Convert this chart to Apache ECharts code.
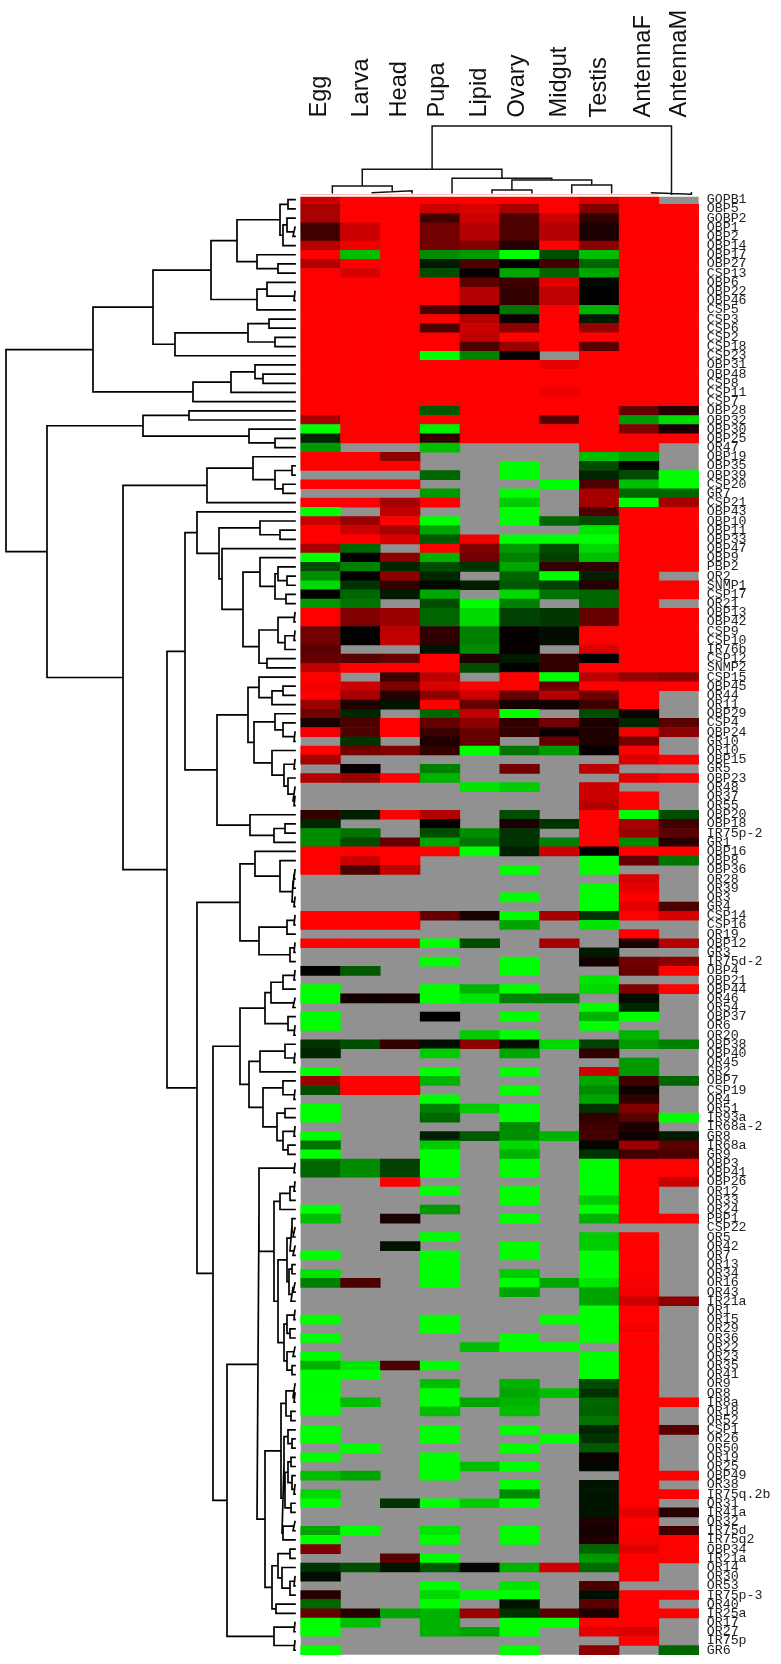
<!DOCTYPE html>
<html>
<head>
<meta charset="utf-8">
<style>html,body{margin:0;padding:0;background:#fff}#c{width:781px;height:1664px}</style>
<script src="https://cdn.jsdelivr.net/npm/echarts@6/dist/echarts.min.js"></script>
</head>
<body>
<div id="c"></div>
<script>
const X = null, R = 1, G = -1;

const tissues = ['Egg','Larva','Head','Pupa','Lipid','Ovary','Midgut','Testis','AntennaF','AntennaM'];

const rowLabels = ['GOPB1','OBP5','GOBP2','OBP1','OBP2','OBP14','OBP17','OBP27','CSP13','OBP6',
'OBP22','OBP46','CSP5','CSP3','CSP6','CSP2','CSP18','CSP23','OBP31','OBP48',
'CSP8','CSP11','CSP7','OBP28','OBP32','OBP30','OBP25','OR47','OBP19','OBP35',
'OBP39','CSP20','GR7','CSP21','OBP43','OBP10','OBP11','OBP33','OBP47','OBP9',
'PBP2','OR2','SNMP1','CSP17','OR21','OBP13','OBP42','CSP9','CSP10','IR76b',
'CSP12','SNMP2','CSP15','OBP45','OR44','OR11','OBP29','CSP4','OBP24','GR10',
'OR10','OBP15','GR5','OBP23','OR48','OR37','OR55','OBP20','OBP18','IR75p-2',
'GR1','OBP16','OBP8','OBP36','OR28','OR39','OR3','GR4','CSP14','CSP16',
'OR19','OBP12','GR3','IR75d-2','OBP4','OBP21','OBP44','OR46','OR54','OBP37',
'OR6','OR20','OBP38','OBP40','OR45','GR2','OBP7','CSP19','OR4','OR51',
'IR93a','IR68a-2','GR8','IR68a','GR9','OBP3','OBP41','OBP26','OR12','OR33',
'OR24','PBP1','CSP22','OR5','OR42','OR7','OR13','OR34','OR16','OR43',
'IR21a','OR1','OR15','OR29','OR36','OR22','OR23','OR35','OR41','OR9',
'OR8','IR8a','OR18','OR52','CSP1','OR26','OR50','OR19','OR25','OBP49',
'OR38','IR75q.2b','OR31','IR41a','OR32','IR75d','IR75q2','OBP34','IR21a','OR14',
'OR30','OR53','IR75p-3','OR40','IR25a','OR17','OR27','IR75p','GR6'];

// one row per gene, one value per tissue: +1 red, 0 black, -1 green, X = not detected (grey)
const expression = [
[.8,R,R,R,R,R,R,.85,R,X],
[.65,R,R,.8,.85,.65,R,.5,R,R],
[.65,R,R,.25,.8,.3,.8,.2,R,R],
[.25,.8,R,.45,.7,.3,.7,.1,R,R],
[.25,.8,R,.45,.7,.3,.7,.1,R,R],
[.7,.95,R,.45,.5,.15,R,.55,R,R],
[R,-.75,R,-.55,-.6,G,-.3,-.75,R,R],
[.7,R,R,-.1,.3,0,.25,-.4,R,R],
[R,.85,R,-.3,.03,-.65,-.4,-.65,R,R],
[R,R,R,R,.35,.25,.9,-.03,R,R],
[R,R,R,R,.7,.2,.75,0,R,R],
[R,R,R,R,.7,.2,.75,0,R,R],
[R,R,R,.3,0,-.45,R,-.7,R,R],
[R,R,R,R,.7,.05,R,-.1,R,R],
[R,R,R,.3,.8,.55,R,.6,R,R],
[R,R,R,R,.75,R,R,R,R,R],
[R,R,R,R,.3,.6,R,.35,R,R],
[R,R,R,G,-.5,.03,X,R,R,R],
[R,R,R,R,R,R,.9,R,R,R],
[R,R,R,R,R,R,R,R,R,R],
[R,R,R,R,R,R,R,R,R,R],
[R,R,R,R,R,R,.93,R,R,R],
[R,R,R,R,R,R,R,R,R,R],
[R,R,R,-.35,R,R,R,R,.4,.15],
[.65,R,R,R,R,R,.35,R,-.6,-.85],
[G,R,R,-.95,R,R,R,R,.5,.1],
[-.15,R,R,.2,R,R,R,R,R,R],
[-.6,X,X,-.75,X,X,X,R,R,X],
[R,R,.55,X,X,X,X,-.75,-.65,X],
[R,R,R,X,X,G,X,-.3,-.02,X],
[X,X,X,-.4,X,G,X,-.15,-.3,G],
[R,R,R,X,X,X,G,.3,-.75,G],
[X,X,X,-.6,X,G,X,.65,-.4,-.4],
[R,R,.65,R,X,-.8,X,.65,G,.65],
[G,X,.75,X,X,G,X,.3,R,R],
[.8,.6,R,G,X,G,-.4,-.3,R,R],
[R,.8,.65,-.65,X,X,X,-.9,R,R],
[R,R,.85,-.35,.95,G,G,G,R,R],
[.65,-.4,X,R,.5,-.6,-.3,-.85,R,R],
[G,0,.55,-.7,.45,-.5,-.25,-.75,R,R],
[-.3,-.5,-.15,-.3,-.2,-.65,.2,.2,R,R],
[-.55,0,.55,-.15,X,-.4,G,-.12,R,X],
[-.85,-.2,.2,-.03,-.12,-.35,-.25,.15,R,R],
[.02,-.4,-.1,-.65,X,-.85,-.45,-.4,R,R],
[-.6,-.45,X,-.3,G,-.5,X,-.4,R,X],
[R,.5,.6,-.4,-.85,-.25,-.22,.4,R,R],
[R,.5,.6,-.4,-.85,-.25,-.22,.4,R,R],
[.45,0,.75,.18,-.5,.02,-.05,R,R,R],
[.45,0,.75,.18,-.5,.02,-.05,R,R,R],
[.35,X,X,-.07,-.55,.03,X,.85,R,R],
[.4,.35,.4,R,.12,-.1,.2,0,R,R],
[.75,R,R,R,-.3,0,.2,R,R,R],
[R,X,.25,.75,X,R,G,.75,.6,.55],
[.95,.8,.5,.85,R,R,.4,R,R,R],
[R,.65,.15,.55,.8,.4,.7,.45,R,X],
[.6,.12,-.08,R,.4,.08,.07,.25,R,X],
[.45,-.15,X,-.4,.75,G,X,-.3,.07,X],
[.1,.3,R,.4,.55,.2,.45,.1,-.15,.35],
[.95,.3,R,.22,.4,.2,.03,.12,.95,.55],
[X,-.2,X,.12,.4,X,.4,.12,.45,X],
[R,.45,.5,.2,G,-.45,-.6,.03,R,X],
[.65,X,X,X,X,X,X,X,.85,R],
[X,.03,X,-.5,X,.45,X,.75,X,X],
[.7,.6,R,-.7,X,X,X,X,.9,R],
[X,X,X,X,-.9,-.8,X,.8,X,X],
[X,X,X,X,X,X,X,.8,R,X],
[X,X,X,X,X,X,X,.7,R,X],
[.2,-.12,R,.7,X,-.3,X,R,G,-.3],
[-.15,X,X,0,X,.1,-.2,R,.65,.25],
[-.55,-.45,X,-.3,-.55,-.2,X,R,.6,.35],
[-.55,-.3,.4,-.65,-.45,-.2,-.5,R,-.55,.15],
[R,R,R,R,G,-.12,.8,0,R,R],
[R,.8,R,X,X,X,X,G,.4,-.45],
[R,.3,.75,X,X,G,X,G,X,X],
[X,X,X,X,X,X,X,X,.85,X],
[X,X,X,X,X,X,X,G,.9,X],
[X,X,X,X,X,G,X,G,R,X],
[X,X,X,X,X,X,X,G,.9,.3],
[R,R,R,.4,.1,G,.65,-.2,R,.85],
[R,R,R,X,X,-.65,X,-.9,X,X],
[X,X,X,X,X,X,X,X,R,X],
[R,R,R,G,-.3,X,.65,X,.1,.7],
[X,X,X,X,X,X,X,-.1,X,X],
[X,X,X,G,X,G,X,.08,.45,.55],
[0,-.35,X,X,X,G,X,X,.4,R],
[X,X,X,X,X,X,X,-.9,X,X],
[G,X,X,G,-.7,G,X,-.85,.5,R],
[G,.07,.07,G,-.9,-.5,-.5,X,-.05,X],
[X,X,X,X,X,X,X,G,-.15,X],
[G,X,X,0,X,G,X,-.7,G,X],
[G,X,X,X,X,X,X,G,X,X],
[X,X,X,X,-.8,G,X,X,-.7,X],
[-.2,-.3,.2,-.06,.55,-.06,-.85,-.25,-.6,-.5],
[-.15,X,X,-.8,X,-.65,X,.2,X,X],
[X,X,X,X,X,X,X,X,-.6,X],
[G,X,X,G,X,G,X,.8,-.6,X],
[.6,R,R,-.7,X,X,X,-.65,.25,-.4],
[-.3,R,R,X,X,G,X,-.55,.05,X],
[X,X,X,G,X,X,X,-.65,.2,X],
[G,X,X,-.5,-.8,G,X,-.2,.5,X],
[G,X,X,-.4,X,G,X,.2,.35,G],
[X,X,X,X,X,-.55,X,.25,.12,X],
[G,X,X,-.12,-.35,-.55,-.7,.25,.05,-.1],
[-.45,X,X,-.8,X,-.85,X,-.03,.6,.35],
[G,X,X,G,X,-.7,X,-.2,.25,.3],
[-.4,-.55,-.25,G,X,G,X,G,R,R],
[-.4,-.55,-.25,G,X,G,X,G,R,R],
[X,X,R,X,X,X,X,G,R,.8],
[X,X,X,G,X,G,X,G,R,X],
[X,X,X,X,X,G,X,-.8,R,X],
[G,X,X,-.6,X,X,X,G,R,X],
[-.75,X,.1,X,X,G,X,-.7,R,R],
[X,X,X,X,X,X,X,X,X,X],
[X,X,X,G,X,X,X,-.8,R,X],
[X,X,-.08,X,X,G,X,-.8,R,X],
[G,X,X,G,X,G,X,G,R,X],
[X,X,X,G,X,X,X,G,R,X],
[-.9,X,X,G,X,-.8,X,G,R,X],
[-.5,.3,X,G,X,G,-.65,-.9,.97,X],
[X,X,X,X,X,-.65,X,-.65,.95,X],
[X,X,X,X,X,X,X,-.65,.8,.55],
[X,X,X,X,X,X,X,G,R,X],
[G,X,X,G,X,X,G,G,R,X],
[X,X,X,G,X,X,X,G,.95,X],
[G,X,X,X,X,G,X,G,R,X],
[X,X,X,X,-.75,G,G,X,R,X],
[G,X,X,X,X,X,X,G,R,X],
[-.7,-.9,.3,G,X,X,X,G,R,X],
[G,G,X,X,X,X,X,G,R,X],
[G,X,X,-.75,X,-.7,X,-.3,R,X],
[G,X,X,G,X,-.65,-.75,-.2,R,X],
[G,-.75,X,G,-.65,-.7,X,-.4,R,R],
[G,X,X,-.75,X,-.75,X,-.38,R,X],
[X,X,X,X,X,X,X,-.45,R,X],
[G,X,X,G,X,G,X,-.15,R,.35],
[G,X,X,G,X,X,G,-.2,R,X],
[X,G,X,X,X,G,X,-.35,R,X],
[G,X,X,G,X,X,X,.05,R,X],
[X,X,X,G,-.75,G,X,-.03,R,X],
[-.75,-.65,X,G,X,X,X,X,R,R],
[X,X,X,X,X,G,X,-.08,R,X],
[-.85,X,X,X,X,-.55,X,-.08,R,R],
[G,X,-.2,G,-.8,G,X,-.08,R,X],
[X,X,X,X,X,X,X,-.08,.9,.15],
[X,X,X,X,X,X,X,.12,R,X],
[-.65,G,X,-.9,X,G,X,.08,R,.25],
[G,X,X,G,X,G,X,.12,.97,R],
[.5,X,X,X,X,X,X,-.4,.88,R],
[X,X,.35,G,X,X,X,-.6,R,R],
[-.2,-.3,-.08,-.35,-.03,-.7,.8,-.42,R,X],
[-.05,X,X,X,X,X,X,X,R,X],
[X,X,X,G,X,-.9,X,.3,X,X],
[.15,X,X,-.85,G,G,X,-.05,R,R],
[-.4,X,X,G,X,-.08,X,.35,R,X],
[.4,.15,-.65,-.7,.6,-.2,.35,.1,R,R],
[G,-.75,X,-.7,X,G,G,R,R,X],
[G,X,X,-.7,-.65,G,X,.9,.85,X],
[X,X,X,X,X,X,X,X,R,X],
[G,X,X,X,X,G,X,.55,X,-.4]
];

// Dendrograms: [merge height, child, child]; a plain number is a leaf (row number / column index)
const clusterTop = [15,[7,1,2],[12,[8,3,[2,4,5]],6]];
const clusterA1 = [142,[84,[58,clusterTop,[38,7,[17,8,9]]],[38,[28,10,[1,11,12]],13]],[120,[47,[26,14,15],[20,16,17]],18]];
const clusterA2 = [102,[64,[40,19,[32,20,21]],22],23];
const clusterB1 = [152,[106,24,25],[46,26,[20,27,28]]];
const clusterB21 = [88,[42,29,[20,[3,30,31],[12,32,33]]],34];
const cluster197 = [98,35,[76,[35,36,[15,37,38]],[73,39,[52,[35,40,[20,[17,41,[8,42,43]],[9,44,45]]],[36,[17,[1,46,47],[10,[1,48,49],50]],[28,51,52]]]]]];
const cluster217 = [78,[47,[36,53,[23,[12,54,55],56]],[41,[20,57,[12,58,[1,59,60]]],[23,61,[11,[1,62,63],[7,64,[2,65,[1,66,67]]]]]]],[45,68,[21,[10,69,70],71]]];
const cluster240 = [55,[40,72,[15,73,[3,[2,[1,74,75],76],[1,77,78]]]],[36,[8,[1,79,80],81],[5,[1,82,83],84]]];
const cluster265a = [30,[24,[12,[1,85,86],87],[2,88,89]],[7,90,[1,91,92]]];
const cluster249 = [46,[35,[10,93,[1,94,95]],96],[32,[12,97,[1,98,99]],[18,[10,100,101],[12,[1,102,103],[7,104,105]]]]];
const clusterT = [8,[5,[3,112,[2,113,114]],[2,115,116]],[6,[3,117,118],[4,[2,119,120],121]]];
const clusterP = [11,[8,[1,122,123],[5,124,125]],[8,[2,126,127],[3,128,129]]];
const clusterR1 = [9,[2,130,[1,131,132]],[4,133,134]];
const clusterRa = [11,[7,135,[3,136,137]],[10,[7,[4,138,139],[3,140,[1,141,142]]],[4,143,144]]];
const clusterRb = [12,[2,145,146],147];
const clusterU = [17,[5,148,149],[13,150,[5,[1,151,152],153]]];
const cluster257 = [38,[36,[1,106,107],[21,[15,[5,[1,108,109],110],111],[17,clusterT,clusterP]]],
  [30,[14,clusterR1,[13,clusterRa,clusterRb]],[23,clusterU,[19,154,155]]]];
const cluster227 = [68,cluster257,[21,[1,156,157],[1,158,159]]];
const rowTree = [289,[202,clusterA1,clusterA2],[248,clusterB1,[172,clusterB21,[128,[110,cluster197,cluster217],[98,cluster240,[82,[55,cluster265a,cluster249],cluster227]]]]]];
const columnTree = [66.7,[23.4,[6.7,0,[2,1,2]],[14.4,3,[12.7,[2.7,4,5],[7.7,6,7]]]],[-1.5,8,9]];

// Walk a tree into polyline pieces, NaN separates the pieces. pt() orders (height, position) for the axes.
function walk(node, leafPos, pt, out) {
  if (typeof node === 'number') return { h: 0, p: leafPos(node) };
  const a = walk(node[1], leafPos, pt, out), b = walk(node[2], leafPos, pt, out), h = node[0];
  out.push(pt(a.h, a.p), pt(h, a.p), pt(h, b.p), pt(b.h, b.p), [NaN, NaN]);
  return { h, p: (a.p + b.p) / 2 };
}
const rowSegs = []; walk(rowTree, k => k - 0.5, (h, p) => [h, p], rowSegs);
const colSegs = []; walk(columnTree, i => i, (h, p) => [p, h], colSegs);

const cells = [];
expression.forEach((row, r) => row.forEach((v, c) => { if (v !== null) cells.push([c, r, v]); }));

const heatTop = 195.1, heatH = 1459.6;
const labelBaseX = [326.7, 368.3, 406.7, 444, 486.7, 524, 566.7, 606.7, 650.7, 686];
const sans = '"Liberation Sans", Arial, sans-serif';

const chart = echarts.init(document.getElementById('c'), null, { renderer: 'canvas' });
chart.setOption({
  animation: false,
  backgroundColor: '#ffffff',
  grid: [
    { left: 300.7, top: heatTop, width: 398, height: heatH, show: true, backgroundColor: '#919191', borderWidth: 0, containLabel: false },
    { left: 0, top: heatTop, width: 295, height: heatH, containLabel: false },
    { left: 312.4, top: 120, width: 399, height: 77, containLabel: false }
  ],
  xAxis: [
    { gridIndex: 0, type: 'category', data: tissues, show: false },
    { gridIndex: 1, type: 'value', min: 0, max: 295, inverse: true, show: false },
    { gridIndex: 2, type: 'value', min: -0.5, max: 9.5, show: false }
  ],
  yAxis: [
    { gridIndex: 0, type: 'category', data: rowLabels, inverse: true, position: 'right',
      axisLine: { show: false }, axisTick: { show: false }, splitLine: { show: false },
      axisLabel: { interval: 0, margin: 8, fontFamily: '"Liberation Mono", monospace', fontSize: 13.3, color: '#222', align: 'left' } },
    { gridIndex: 1, type: 'value', min: 0, max: 159, inverse: true, show: false },
    { gridIndex: 2, type: 'value', min: -4.3, max: 72.7, show: false }
  ],
  visualMap: { show: false, type: 'continuous', min: -1, max: 1, seriesIndex: 0, dimension: 2,
    inRange: { color: ['#00ff00', '#000000', '#ff0000'] } },
  series: [
    { type: 'heatmap', xAxisIndex: 0, yAxisIndex: 0, data: cells, progressive: 0, emphasis: { disabled: true }, itemStyle: { borderWidth: 0 } },
    { type: 'line', xAxisIndex: 1, yAxisIndex: 1, data: rowSegs, showSymbol: false, symbol: 'none', clip: false, silent: true, connectNulls: false,
      lineStyle: { color: '#000', width: 1.7, cap: 'square', join: 'miter' } },
    { type: 'line', xAxisIndex: 2, yAxisIndex: 2, data: colSegs, showSymbol: false, symbol: 'none', clip: false, silent: true, connectNulls: false,
      lineStyle: { color: '#111', width: 1.5, cap: 'square', join: 'miter' } }
  ],
  graphic: [
    { type: 'rect', z: 100, shape: { x: 300, y: 195, width: 400, height: 1.7 }, style: { fill: '#fff' } }
  ].concat(tissues.map((t, i) => ({
    type: 'text', z: 101, x: labelBaseX[i] - 7, y: 117.5, rotation: Math.PI / 2,
    style: { text: t, font: '23.6px ' + sans, fill: '#111', textAlign: 'left', textVerticalAlign: 'middle' }
  })))
});
</script>
</body>
</html>
